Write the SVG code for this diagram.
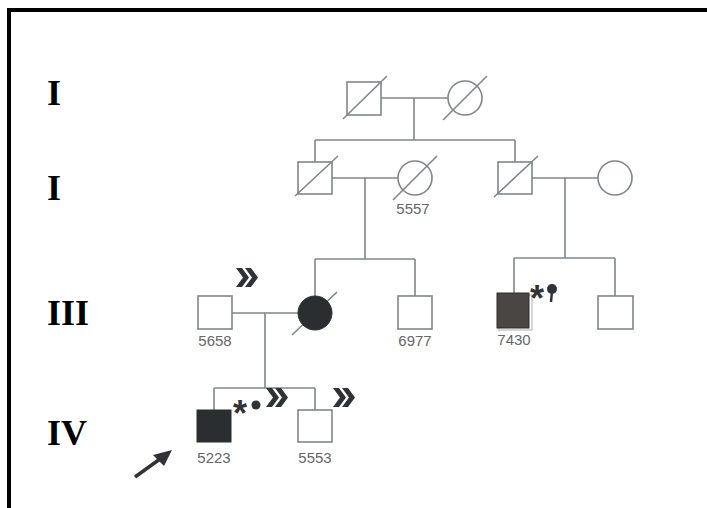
<svg xmlns="http://www.w3.org/2000/svg" width="707" height="508" viewBox="0 0 707 508">
<defs>
<style>
.ln{stroke:#80868c;stroke-width:1.6;fill:none}
.sym{stroke:#80868c;stroke-width:1.6;fill:#fff}
.dg{stroke:#80868c;stroke-width:1.6}
.gen{font-family:"Liberation Serif",serif;font-weight:bold;font-size:36px;fill:#000}
.id{font-family:"Liberation Sans",Arial,sans-serif;font-size:15px;fill:#666;text-anchor:middle}
.ast{font-family:"Liberation Sans",Arial,sans-serif;font-weight:bold;font-size:36px;fill:#333}
.chev{fill:#2f3236}
</style>
<g id="dchev"><path class="chev" d="M0,0 L6,0 L13,9.5 L6,19 L0,19 L7,9.5 Z M9,0 L15,0 L22,9.5 L15,19 L9,19 L16,9.5 Z"/></g>
</defs>
<rect width="707" height="508" fill="#fff"/>
<path d="M9,508 L9,10 L707,10" stroke="#000" stroke-width="4" fill="none"/>

<g id="generations">
<text class="gen" x="47" y="105">I</text>
<text class="gen" x="47" y="200">I</text>
<text class="gen" x="47" y="325">III</text>
<text class="gen" x="47" y="445">IV</text>
</g>

<g id="connectors">
<path class="ln" d="M381,98 H448 M414,98 V140 M315,140 H515 M315,140 V162 M515,140 V162"/>
<path class="ln" d="M332,178 H398 M365,178 V259 M315,259 H415 M315,259 V296 M415,259 V296"/>
<path class="ln" d="M532,178 H598 M565,178 V258 M514,258 H615 M514,258 V293 M615,258 V296"/>
<path class="ln" d="M232,313 H298 M265,313 V388 M214,388 H315 M214,388 V410 M315,388 V410"/>
</g>

<g id="n1"><rect class="sym" x="347" y="82" width="34" height="33"/><line class="dg" x1="343" y1="119" x2="387" y2="76"/></g>
<g id="n2"><circle class="sym" cx="465" cy="98" r="17"/><line class="dg" x1="443" y1="120" x2="487" y2="76"/></g>
<g id="n3"><rect class="sym" x="298" y="162" width="34" height="32"/><line class="dg" x1="295" y1="196" x2="338" y2="156"/></g>
<g id="n4"><circle class="sym" cx="415" cy="178" r="17"/><line class="dg" x1="393" y1="200" x2="437" y2="156"/><text class="id" x="413" y="214">5557</text></g>
<g id="n5"><rect class="sym" x="498" y="162" width="34" height="32"/><line class="dg" x1="494" y1="197" x2="538" y2="156"/></g>
<g id="n6"><circle class="sym" cx="615" cy="178" r="17"/></g>

<g id="n7"><rect class="sym" x="198" y="296" width="34" height="33"/><text class="id" x="215" y="346">5658</text><use href="#dchev" x="236" y="268"/></g>
<g id="n8"><line class="dg" x1="292" y1="335" x2="337" y2="292"/><circle cx="315" cy="313" r="17" fill="#2b2e31" stroke="#2b2e31" stroke-width="1"/></g>
<g id="n9"><rect class="sym" x="398" y="296" width="34" height="33"/><text class="id" x="415" y="346">6977</text></g>
<g id="n10"><rect x="499" y="295" width="33" height="35" fill="none" stroke="#b8bcc0" stroke-width="1.2"/><rect x="497" y="293" width="32" height="35" fill="#4a4643" stroke="#2f2c2a" stroke-width="1"/><text class="id" x="514" y="345">7430</text><text class="ast" x="530" y="311">*</text><circle cx="552" cy="289" r="5" fill="#2f3236"/><line x1="552" y1="291" x2="551" y2="302" stroke="#2f3236" stroke-width="2.5"/></g>
<g id="n11"><rect class="sym" x="598" y="296" width="35" height="33"/></g>

<g id="n12"><rect x="197" y="410" width="34" height="32" fill="#2b2e31" stroke="#2b2e31" stroke-width="1"/><text class="id" x="214" y="463">5223</text><text class="ast" x="233" y="426">*</text><circle cx="256" cy="405" r="4.5" fill="#2f3236"/><use href="#dchev" x="266" y="388"/></g>
<g id="n13"><rect class="sym" x="298" y="410" width="34" height="32"/><text class="id" x="315" y="463">5553</text><use href="#dchev" x="333" y="388"/></g>

<g id="proband"><line x1="135" y1="477" x2="160" y2="459" stroke="#2f3236" stroke-width="3.5"/><path d="M172,450 L153,455 L164,466 Z" fill="#2f3236"/></g>
</svg>
